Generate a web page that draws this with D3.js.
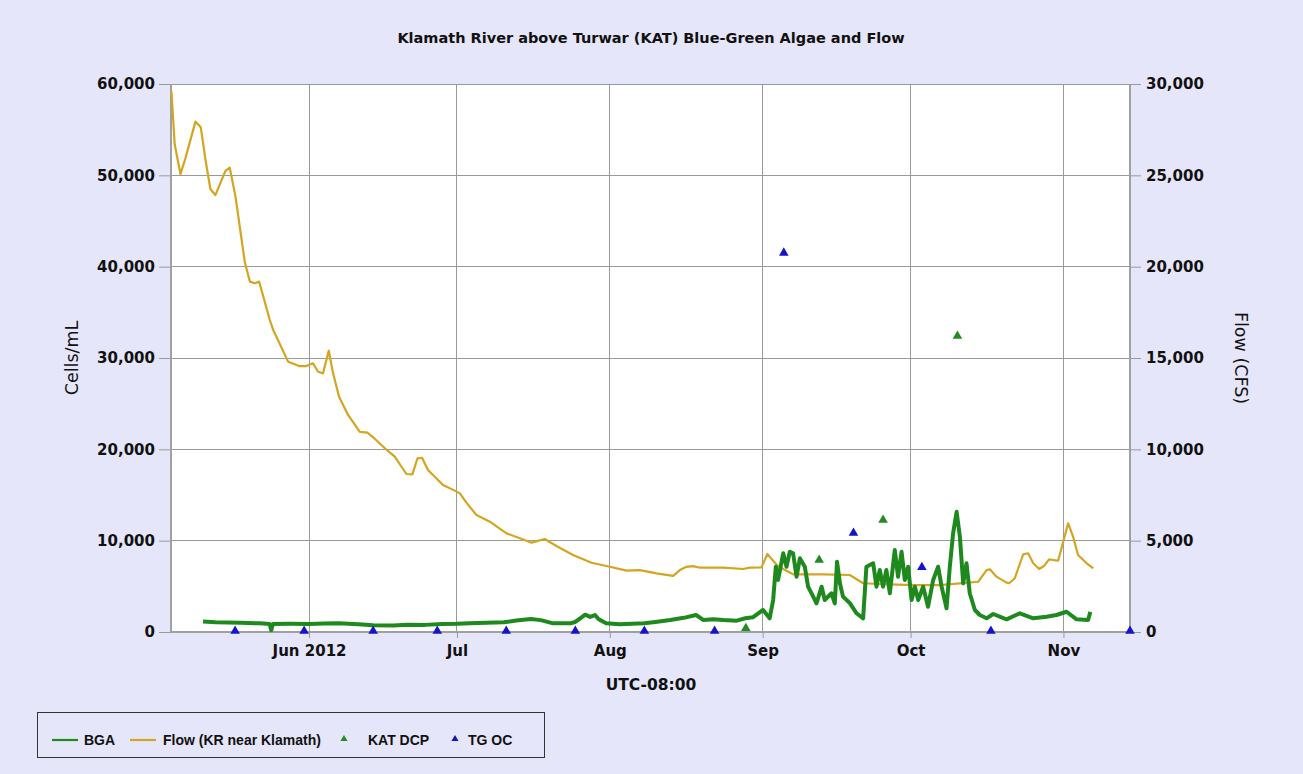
<!DOCTYPE html>
<html><head><meta charset="utf-8">
<script src="https://cdn.jsdelivr.net/npm/d3@7"></script>
<style>
html,body{margin:0;padding:0;background:#E6E6FA;}
</style></head>
<body><svg id="chart" width="1303" height="774" font-family="'DejaVu Sans',Verdana,sans-serif"></svg>
<script>
// ---------------- DATA ----------------
const title = "Klamath River above Turwar (KAT) Blue-Green Algae and Flow";
const xTickDates = ["2012-06-01 00","2012-07-01 00","2012-08-01 00","2012-09-01 00","2012-10-01 00","2012-11-01 00"];
const xTickLabels = ["Jun 2012","Jul","Aug","Sep","Oct","Nov"];
const leftTicks = [0,10000,20000,30000,40000,50000,60000];
const rightTicks = [0,5000,10000,15000,20000,25000,30000];
const xDomain = ["2012-05-04 00","2012-11-14 12"];

// Flow (KR near Klamath), CFS
const flow = [
["2012-05-04 02",29600],["2012-05-04 18",26700],["2012-05-05 22",25070],["2012-05-06 22",25930],
["2012-05-08 23",27940],["2012-05-10 01",27630],["2012-05-11 00",25840],["2012-05-12 00",24240],
["2012-05-13 00",23920],["2012-05-15 01",25240],["2012-05-15 22",25420],["2012-05-17 02",23830],
["2012-05-18 23",20270],["2012-05-20 00",19180],["2012-05-21 00",19090],["2012-05-21 21",19180],
["2012-05-24 01",17080],["2012-05-24 17",16550],["2012-05-27 18",14800],["2012-05-30 00",14560],
["2012-05-31 11",14560],["2012-06-01 19",14710],["2012-06-02 20",14250],["2012-06-03 20",14160],
["2012-06-05 00",15400],["2012-06-05 21",14160],["2012-06-07 02",12880],["2012-06-08 22",11880],
["2012-06-11 07",10960],["2012-06-12 20",10910],["2012-06-14 00",10660],["2012-06-16 09",10060],
["2012-06-18 09",9600],["2012-06-20 18",8650],["2012-06-21 23",8630],["2012-06-23 00",9510],
["2012-06-23 22",9540],["2012-06-25 03",8870],["2012-06-26 12",8500],["2012-06-28 04",8050],
["2012-06-30 13",7740],["2012-07-01 14",7590],["2012-07-02 22",7080],["2012-07-04 23",6400],
["2012-07-07 16",6040],["2012-07-11 01",5400],["2012-07-13 18",5130],["2012-07-16 03",4890],
["2012-07-18 19",5090],["2012-07-21 04",4710],["2012-07-24 13",4220],["2012-07-28 07",3790],
["2012-08-01 00",3570],["2012-08-04 09",3360],["2012-08-07 02",3390],["2012-08-10 11",3210],
["2012-08-13 20",3070],["2012-08-15 05",3390],["2012-08-16 13",3570],["2012-08-17 21",3610],
["2012-08-19 06",3520],["2012-08-24 00",3520],["2012-08-28 01",3450],["2012-08-29 09",3520],
["2012-08-31 18",3540],["2012-09-01 23",4270],["2012-09-03 03",3900],["2012-09-04 03",3600],
["2012-09-07 04",3160],["2012-09-13 06",3160],["2012-09-18 16",3120],["2012-09-21 09",2670],
["2012-09-26 19",2610],["2012-10-01 12",2570],["2012-10-06 22",2570],["2012-10-14 17",2750],
["2012-10-16 10",3390],["2012-10-17 02",3430],["2012-10-18 10",3030],["2012-10-20 11",2700],
["2012-10-21 00",2670],["2012-10-22 03",2940],["2012-10-23 20",4250],["2012-10-24 20",4310],
["2012-10-25 21",3760],["2012-10-27 02",3450],["2012-10-28 01",3610],["2012-10-29 02",3980],
["2012-10-30 22",3900],["2012-11-01 23",5950],["2012-11-02 23",5220],["2012-11-03 23",4220],
["2012-11-05 17",3760],["2012-11-07 01",3490]
];

// BGA, cells/mL
const bga = [
["2012-05-10 12",1150],["2012-05-13 00",1080],["2012-05-18 00",1020],["2012-05-22 00",950],
["2012-05-24 00",880],["2012-05-24 08",200],["2012-05-24 16",880],["2012-05-28 00",900],
["2012-06-01 00",880],["2012-06-04 00",920],["2012-06-07 00",950],["2012-06-11 00",850],
["2012-06-14 00",730],["2012-06-18 00",720],["2012-06-21 00",800],["2012-06-24 12",780],
["2012-06-28 00",880],["2012-07-01 00",900],["2012-07-03 12",950],["2012-07-07 00",1000],
["2012-07-10 12",1060],["2012-07-13 00",1250],["2012-07-16 00",1420],["2012-07-18 00",1300],
["2012-07-20 12",950],["2012-07-24 00",950],["2012-07-25 00",1100],["2012-07-26 00",1500],
["2012-07-27 00",1900],["2012-07-28 00",1650],["2012-07-29 00",1850],["2012-07-29 18",1400],["2012-07-31 06",950],["2012-08-03 00",840],
["2012-08-08 00",950],["2012-08-10 06",1100],["2012-08-13 06",1310],["2012-08-16 00",1550],
["2012-08-18 12",1860],["2012-08-20 00",1310],["2012-08-22 00",1400],["2012-08-24 00",1310],
["2012-08-26 18",1240],["2012-08-28 12",1500],["2012-08-30 00",1610],["2012-09-01 02",2410],
["2012-09-02 10",1500],["2012-09-03 03",3500],["2012-09-03 16",7150],["2012-09-04 03",5700],
["2012-09-05 04",8620],["2012-09-05 20",7150],["2012-09-06 12",8790],["2012-09-07 04",8620],
["2012-09-07 21",6060],["2012-09-08 13",8070],["2012-09-09 13",7150],["2012-09-10 05",4960],
["2012-09-11 06",3870],["2012-09-11 22",3140],["2012-09-12 23",4960],["2012-09-13 14",3500],
["2012-09-14 23",4240],["2012-09-15 15",3140],["2012-09-16 02",7700],["2012-09-16 16",5330],
["2012-09-17 07",3870],["2012-09-18 17",3140],["2012-09-20 01",2050],["2012-09-21 09",1500],
["2012-09-22 01",7150],["2012-09-23 10",7520],["2012-09-24 02",4960],["2012-09-24 18",6790],
["2012-09-25 10",4960],["2012-09-26 02",6790],["2012-09-26 19",4240],["2012-09-27 19",8980],
["2012-09-28 11",6060],["2012-09-29 04",8790],["2012-09-29 20",5700],["2012-09-30 12",7150],
["2012-10-01 05",3500],["2012-10-01 21",4960],["2012-10-02 13",3500],["2012-10-03 13",4960],
["2012-10-04 13",2770],["2012-10-05 14",5700],["2012-10-06 14",7150],["2012-10-07 07",4960],
["2012-10-08 07",2600],["2012-10-08 23",7150],["2012-10-09 15",10800],["2012-10-10 08",13170],
["2012-10-11 00",10430],["2012-10-11 16",5330],["2012-10-12 08",7520],["2012-10-13 00",4240],
["2012-10-14 01",2410],["2012-10-15 01",1860],["2012-10-16 10",1500],["2012-10-17 18",1970],
["2012-10-20 11",1390],["2012-10-23 04",2050],["2012-10-25 21",1500],["2012-10-28 14",1680],
["2012-10-30 14",1860],["2012-11-01 15",2220],["2012-11-03 16",1390],["2012-11-06 00",1310],
["2012-11-06 11",2200]
];

// KAT DCP grab samples (cells/mL)
const katDcp = [["2012-08-28 14",400],["2012-09-12 11",7880],["2012-09-25 10",12260],["2012-10-10 12",32410]];
// TG OC grab samples (cells/mL)
const tgOc = [["2012-05-17 00",0],["2012-05-31 00",0],["2012-06-14 00",0],["2012-06-27 00",0],
["2012-07-11 00",0],["2012-07-25 00",0],["2012-08-08 00",0],["2012-08-22 06",0],
["2012-09-05 07",41400],["2012-09-19 10",10730],["2012-10-03 07",6970],["2012-10-17 07",0],
["2012-11-14 12",0]];

const legendItems = [
  {label:"BGA", type:"line", color:"#1E8A1E"},
  {label:"Flow (KR near Klamath)", type:"line", color:"#D4A520"},
  {label:"KAT DCP", type:"tri", color:"#228B22"},
  {label:"TG OC", type:"tri", color:"#1414C8"}
];

// ---------------- CHART ----------------
const parse = d3.timeParse("%Y-%m-%d %H");
const W = 1303, H = 774;
const M = {left:171, right:1130, top:84, bottom:632};
const LIB = "'Liberation Sans',Arial,sans-serif";
const svg = d3.select("#chart");
svg.append("rect").attr("width",W).attr("height",H).attr("fill","#E6E6FA");

const x = d3.scaleTime().domain(xDomain.map(parse)).range([M.left, M.right]);
const yL = d3.scaleLinear().domain([0,60000]).range([M.bottom, M.top]);
const yR = d3.scaleLinear().domain([0,30000]).range([M.bottom, M.top]);

svg.append("rect").attr("x",M.left).attr("y",M.top).attr("width",M.right-M.left).attr("height",M.bottom-M.top).attr("fill","#fff");

// gridlines
const grid = svg.append("g").attr("stroke","#9a9a9a").attr("stroke-width",1).attr("shape-rendering","crispEdges");
leftTicks.forEach(v=>{ grid.append("line").attr("x1",M.left).attr("x2",M.right).attr("y1",yL(v)).attr("y2",yL(v)); });
xTickDates.forEach(d=>{ grid.append("line").attr("x1",x(parse(d))).attr("x2",x(parse(d))).attr("y1",M.top).attr("y2",M.bottom); });

// axes
const fmt = d3.format(",");
const axL = svg.append("g").attr("transform",`translate(${M.left},0)`)
  .call(d3.axisLeft(yL).tickValues(leftTicks).tickFormat(fmt).tickSize(12).tickPadding(4));
const axR = svg.append("g").attr("transform",`translate(${M.right},0)`)
  .call(d3.axisRight(yR).tickValues(rightTicks).tickFormat(fmt).tickSize(11).tickPadding(5));
const axB = svg.append("g").attr("transform",`translate(0,${M.bottom})`)
  .call(d3.axisBottom(x).tickValues(xTickDates.map(parse)).tickFormat((d,i)=>xTickLabels[i]).tickSize(6).tickPadding(7));
[axL,axR,axB].forEach(a=>{
  a.select(".domain").attr("stroke","#a0a0a0").attr("stroke-width",2);
  a.selectAll(".tick line").attr("stroke","#9a9a9a");
  a.selectAll(".tick text").attr("fill","#111").style("font-weight","bold").style("font-size","15px")
    .style("font-family","'DejaVu Sans',sans-serif");
});
axB.select(".domain").attr("d",`M${M.left},0H${M.right}`);
axL.select(".domain").attr("d",`M0,${M.top}V${M.bottom}`);
axR.select(".domain").attr("d",`M0,${M.top}V${M.bottom}`);

// lines
const flowLine = d3.line().x(d=>x(parse(d[0]))).y(d=>yR(d[1]));
const bgaLine = d3.line().x(d=>x(parse(d[0]))).y(d=>yL(d[1]));
svg.append("path").datum(flow).attr("d",flowLine).attr("fill","none").attr("stroke","#D4A520").attr("stroke-width",2.2).attr("stroke-linejoin","round");
svg.append("path").datum(bga).attr("d",bgaLine).attr("fill","none").attr("stroke","#1E8A1E").attr("stroke-width",4).attr("stroke-linejoin","round");

// triangles
const tri = d3.symbol().type(d3.symbolTriangle).size(40);
svg.append("g").selectAll("path").data(katDcp).join("path")
  .attr("d",tri).attr("transform",d=>`translate(${x(parse(d[0]))},${yL(d[1])})`).attr("fill","#228B22");
svg.append("g").selectAll("path").data(tgOc).join("path")
  .attr("d",tri).attr("transform",d=>`translate(${x(parse(d[0]))},${yL(d[1])-1})`).attr("fill","#1414C8");

// titles
svg.append("text").attr("x",651).attr("y",43).attr("text-anchor","middle").attr("fill","#111")
  .style("font-size","14.5px").style("font-weight","bold").text(title);
svg.append("text").attr("x",651).attr("y",690).attr("text-anchor","middle").attr("fill","#111")
  .style("font-size","15.5px").style("font-weight","bold").text("UTC-08:00");
svg.append("text").attr("transform","translate(78,358) rotate(-90)").attr("text-anchor","middle").attr("fill","#111")
  .style("font-size","17.5px").text("Cells/mL");
svg.append("text").attr("transform","translate(1235,358) rotate(90)").attr("text-anchor","middle").attr("fill","#111")
  .style("font-size","17.5px").text("Flow (CFS)");

// legend
const lg = svg.append("g");
lg.append("rect").attr("x",37.5).attr("y",712.5).attr("width",507).attr("height",45).attr("fill","#E6E6FA").attr("stroke","#333").attr("stroke-width",1);
const markX = [52,130,344,455];
const textX = [84,163,368,468];
legendItems.forEach((it,i)=>{
  if(it.type==="line"){
    lg.append("line").attr("x1",markX[i]).attr("x2",markX[i]+26).attr("y1",740).attr("y2",740).attr("stroke",it.color).attr("stroke-width",2.2);
  } else {
    lg.append("path").attr("d",d3.symbol().type(d3.symbolTriangle).size(22)).attr("transform",`translate(${markX[i]},739)`).attr("fill",it.color);
  }
  lg.append("text").attr("x",textX[i]).attr("y",745).attr("fill","#111")
    .style("font-size","14px").style("font-weight","bold").style("font-family",LIB).text(it.label);
});
</script></body></html>
